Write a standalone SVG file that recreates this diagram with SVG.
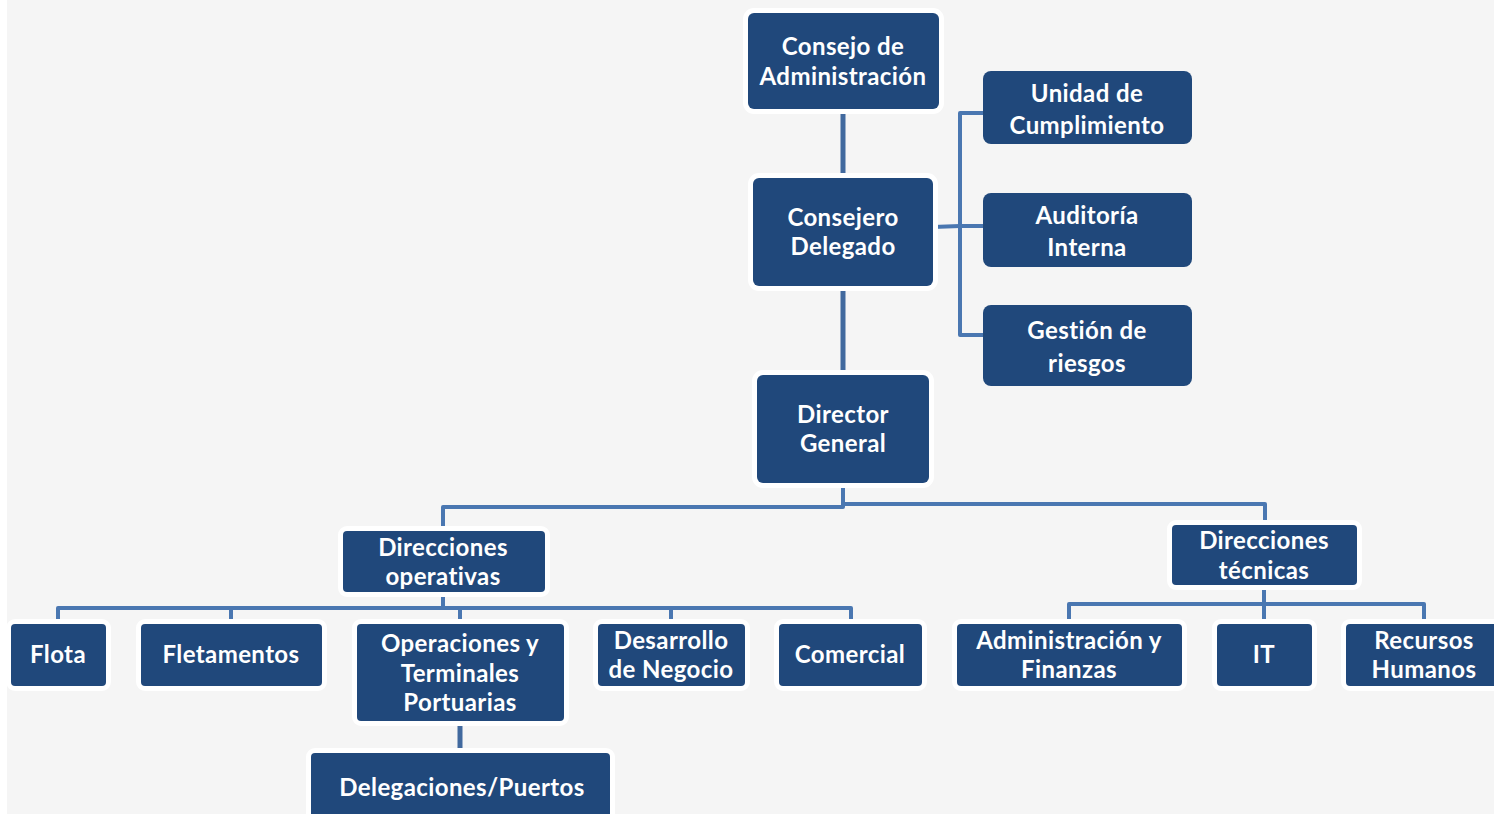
<svg xmlns="http://www.w3.org/2000/svg" width="1494" height="814" viewBox="0 0 1494 814">
<style>
.bg{fill:#f5f5f5}
.box{fill:#20487b;stroke:#ffffff;stroke-width:10;paint-order:stroke}
.boxn{fill:#20487b}
.t{font-family:Lato,"Open Sans",sans-serif;font-weight:bold;font-size:24px;letter-spacing:0.4px;fill:#ffffff;text-anchor:middle;font-variant-ligatures:none;font-feature-settings:"liga" 0}
.c{fill:none;stroke:#4a77b1;stroke-width:4;stroke-linejoin:round}
.cd{fill:none;stroke:#41699e;stroke-width:5}
</style>
<rect x="0" y="0" width="1494" height="814" fill="#ffffff"/>
<rect class="bg" x="7" y="0" width="1487" height="814"/>
<g id="connectors">
<line class="cd" x1="843" y1="110" x2="843" y2="178"/>
<line class="cd" x1="843" y1="286" x2="843" y2="375"/>
<path class="c" d="M983,113 H960 V335 H983"/>
<path class="c" d="M933,227 L960,226 H983"/>
<path class="c" d="M843,483 V507 H443 V531"/>
<path class="c" d="M843,483 V504 H1265 V525"/>
<path class="c" d="M443,592 V608"/>
<path class="c" d="M58,624 V608 H851 V624"/>
<path class="c" d="M231,608 V624"/>
<path class="c" d="M460,608 V624"/>
<path class="c" d="M671,608 V624"/>
<path class="c" d="M1264,585 V624"/>
<path class="c" d="M1069,624 V604 H1424 V624"/>
<line class="cd" x1="460" y1="721" x2="460" y2="753"/>
</g>
<g id="n-consejo"><rect class="box" x="748" y="13" width="191" height="96" rx="6"/><text class="t" x="843" y="55">Consejo de</text><text class="t" x="843" y="85">Administración</text></g>
<g id="n-unidad"><rect class="boxn" x="983" y="71" width="209" height="73" rx="8"/><text class="t" x="1087" y="102">Unidad de</text><text class="t" x="1087" y="134">Cumplimiento</text></g>
<g id="n-consejero"><rect class="box" x="753" y="178" width="180" height="108" rx="6"/><text class="t" x="843" y="226">Consejero</text><text class="t" x="843" y="255">Delegado</text></g>
<g id="n-auditoria"><rect class="boxn" x="983" y="193" width="209" height="74" rx="8"/><text class="t" x="1087" y="224">Auditoría</text><text class="t" x="1087" y="256">Interna</text></g>
<g id="n-gestion"><rect class="boxn" x="983" y="305" width="209" height="81" rx="8"/><text class="t" x="1087" y="339">Gestión de</text><text class="t" x="1087" y="372">riesgos</text></g>
<g id="n-director"><rect class="box" x="757" y="375" width="172" height="108" rx="6"/><text class="t" x="843" y="423">Director</text><text class="t" x="843" y="452">General</text></g>
<g id="n-operativas"><rect class="box" x="343" y="531" width="202" height="61" rx="4"/><text class="t" x="443" y="556">Direcciones</text><text class="t" x="443" y="585">operativas</text></g>
<g id="n-tecnicas"><rect class="box" x="1172" y="525" width="185" height="60" rx="4"/><text class="t" x="1264" y="549">Direcciones</text><text class="t" x="1264" y="579">técnicas</text></g>
<g id="n-flota"><rect class="box" x="11" y="624" width="95" height="62" rx="4"/><text class="t" x="58" y="663">Flota</text></g>
<g id="n-fletamentos"><rect class="box" x="141" y="624" width="181" height="62" rx="4"/><text class="t" x="231" y="663">Fletamentos</text></g>
<g id="n-operaciones"><rect class="box" x="357" y="624" width="207" height="97" rx="4"/><text class="t" x="460" y="652">Operaciones y</text><text class="t" x="460" y="682">Terminales</text><text class="t" x="460" y="711">Portuarias</text></g>
<g id="n-desarrollo"><rect class="box" x="598" y="624" width="147" height="62" rx="4"/><text class="t" x="671" y="649">Desarrollo</text><text class="t" x="671" y="678">de Negocio</text></g>
<g id="n-comercial"><rect class="box" x="779" y="624" width="143" height="62" rx="4"/><text class="t" x="850" y="663">Comercial</text></g>
<g id="n-admin"><rect class="box" x="957" y="624" width="225" height="62" rx="4"/><text class="t" x="1069" y="649">Administración y</text><text class="t" x="1069" y="678">Finanzas</text></g>
<g id="n-it"><rect class="box" x="1217" y="624" width="95" height="62" rx="4"/><text class="t" x="1264" y="663">IT</text></g>
<g id="n-rrhh"><rect class="box" x="1346" y="624" width="156" height="62" rx="4"/><text class="t" x="1424" y="649">Recursos</text><text class="t" x="1424" y="678">Humanos</text></g>
<g id="n-delegaciones"><rect class="box" x="311" y="753" width="299" height="70" rx="4"/><text class="t" x="462" y="796">Delegaciones/Puertos</text></g>
</svg>
